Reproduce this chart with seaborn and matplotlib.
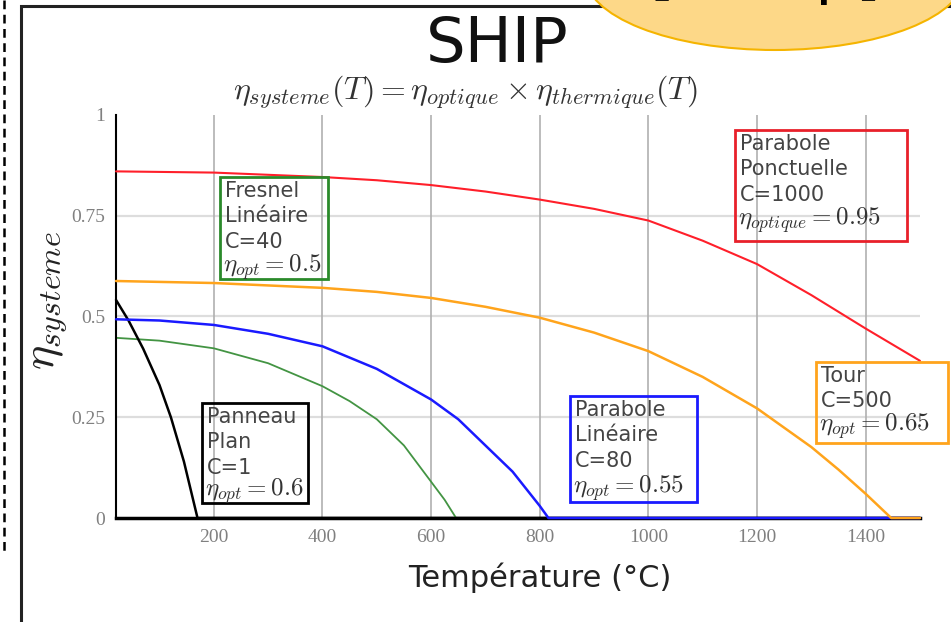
import pandas as pd
import matplotlib.pyplot as plt
import seaborn as sns
from matplotlib.patches import Ellipse, Rectangle
from matplotlib.lines import Line2D

# ==========================================
# 1. Style
# ==========================================
sns.set_style('white')
plt.rcParams['font.family'] = ['DejaVu Sans']
plt.rcParams['mathtext.fontset'] = 'cm'

# ==========================================
# 2. Données
# ==========================================
T_panneau = [20, 43, 70, 100, 121, 145, 170, 1500]
eta_panneau = [0.541, 0.49, 0.42, 0.33, 0.25, 0.14, 0.0, 0.0]

T_fresnel = [20, 100, 200, 300, 400, 450, 500, 550, 600, 625, 646, 1500]
eta_fresnel = [0.447, 0.440, 0.421, 0.384, 0.327, 0.290, 0.245, 0.180, 0.090, 0.045, 0.0, 0.0]

T_cylindro = [20, 100, 200, 300, 400, 500, 600, 650, 700, 750, 800, 816, 1500]
eta_cylindro = [0.493, 0.490, 0.479, 0.457, 0.426, 0.370, 0.294, 0.245, 0.180, 0.115, 0.030, 0.0, 0.0]

T_tour = [20, 200, 400, 500, 600, 700, 800, 900, 1000, 1100, 1200, 1300, 1350, 1400, 1447, 1500]
eta_tour = [0.588, 0.583, 0.571, 0.561, 0.546, 0.524, 0.497, 0.460, 0.414, 0.350, 0.272, 0.176, 0.120, 0.060, 0.0, 0.0]

T_parabole = [20, 200, 400, 500, 600, 700, 800, 900, 1000, 1100, 1200, 1300, 1400, 1500]
eta_parabole = [0.860, 0.857, 0.846, 0.838, 0.826, 0.810, 0.790, 0.767, 0.738, 0.688, 0.630, 0.553, 0.470, 0.390]

x_ticks = [200, 400, 600, 800, 1000, 1200, 1400]
y_ticks = [0, 0.25, 0.5, 0.75, 1]
y_tick_labels = ['0', '0.25', '0.5', '0.75', '1']

W, H = 951, 622


def px(x, y):
    # pixels de l'image -> coordonnées figure
    return x / W, 1 - y / H


# ==========================================
# 3. Figure
# ==========================================
fig = plt.figure(figsize=(W / 100, H / 100), dpi=100)
ax = fig.add_axes([0.122, 0.1672, 0.8454, 0.648])

# grille
for yv in [0.25, 0.5, 0.75]:
    ax.axhline(yv, color='#dddddd', lw=1.6, zorder=0)
for xv in x_ticks:
    ax.axvline(xv, color='#b0b0b0', lw=1.2, zorder=0)

courbes = [
    (T_fresnel, eta_fresnel, '#439443', 1.3, 2),
    (T_panneau, eta_panneau, 'black', 1.8, 3),
    (T_cylindro, eta_cylindro, '#1a1aff', 1.8, 4),
    (T_tour, eta_tour, '#ffa41c', 1.8, 5),
    (T_parabole, eta_parabole, '#ff1f2a', 1.5, 6),
]
for T, eta, c, lw, z in courbes:
    sns.lineplot(x=T, y=eta, color=c, lw=lw, zorder=z, ax=ax,
                 sort=False, estimator=None, clip_on=False)

ax.set_xlim(20, 1500)
ax.set_ylim(0, 1)
ax.set_xticks(x_ticks)
ax.set_xticklabels([str(v) for v in x_ticks])
ax.set_yticks(y_ticks)
ax.set_yticklabels(y_tick_labels)
ax.tick_params(length=0, pad=8, labelcolor='#808080')
for lab in ax.get_xticklabels() + ax.get_yticklabels():
    lab.set_fontfamily('Liberation Serif')
    lab.set_fontsize(14)

for s in ['top', 'right']:
    ax.spines[s].set_visible(False)
ax.spines['left'].set_color('black')
ax.spines['left'].set_linewidth(1.5)
ax.spines['bottom'].set_color('black')
ax.spines['bottom'].set_linewidth(2.5)
ax.spines['bottom'].set_zorder(1)

ax.set_xlabel('Température (°C)', fontsize=22, color='#222222')
ax.xaxis.set_label_coords(0.527, -0.11)
ax.set_ylabel(r'$\eta_{systeme}$', fontsize=33, color='#222222')
ax.yaxis.set_label_coords(-0.058, 0.54)

# boîtes de texte (cadre x0, y0, x1, y1 en pixels ; position de la ligne η)
boites = [
    ((220, 177, 328, 279), 'Fresnel\nLinéaire\nC=40', r'$\eta_{opt}=\mathbf{0.5}$', 267, '#2a8a2a'),
    ((202, 403, 308, 503), 'Panneau\nPlan\nC=1', r'$\eta_{opt}=\mathbf{0.6}$', 491, 'black'),
    ((570, 396, 697, 502), 'Parabole\nLinéaire\nC=80', r'$\eta_{opt}=\mathbf{0.55}$', 488, '#1a1aff'),
    ((816, 362, 948, 443), 'Tour\nC=500', r'$\eta_{opt}=\mathbf{0.65}$', 426, '#ffa41c'),
    ((735, 130, 907, 241), 'Parabole\nPonctuelle\nC=1000', r'$\eta_{optique}=\mathbf{0.95}$', 220, '#e8202a'),
]
for (x0, y0, x1, y1), lignes, math, ym, c in boites:
    fig.add_artist(Rectangle(px(x0, y1), (x1 - x0) / W, (y1 - y0) / H,
                             transform=fig.transFigure, fill=False, ec=c, lw=2, zorder=8))
    fig.text(*px(x0 + 5, y0 + 4), lignes, ha='left', va='top', fontsize=15,
             color='#444444', linespacing=1.33, zorder=8)
    fig.text(*px(x0 + 3, ym), math, ha='left', va='center', fontsize=18,
             color='#333333', zorder=8)

# titres
fig.text(*px(497, 45), 'SHIP', ha='center', va='center', fontsize=45, color='#111111')
fig.text(*px(465, 92), r'$\eta_{systeme}(T) = \eta_{optique} \times \eta_{thermique}(T)$',
         ha='center', va='center', fontsize=23, color='#333333')

# décor de la diapositive
fig.add_artist(Rectangle((21 / W, -0.1), 1.2, 1.1 - 6 / H, transform=fig.transFigure,
                         fill=False, ec='#222222', lw=2.2, zorder=1))
fig.add_artist(Line2D([4 / W, 4 / W], [1, 1 - 555 / H], transform=fig.transFigure,
                      color='black', lw=1.8, ls=(0, (3.5, 2.2))))
fig.add_artist(Ellipse((775 / W, 1 + 25 / H), 380 / W, 150 / H,
                       transform=fig.transFigure, fc='#fdd888', ec='#f5b400',
                       lw=1.5, zorder=3))
fig.text(765 / W, 1 + 8 / H, '[T / Tp]', ha='center', va='baseline',
         fontsize=46, color='black', zorder=4)

plt.savefig('out.png', dpi=100)
